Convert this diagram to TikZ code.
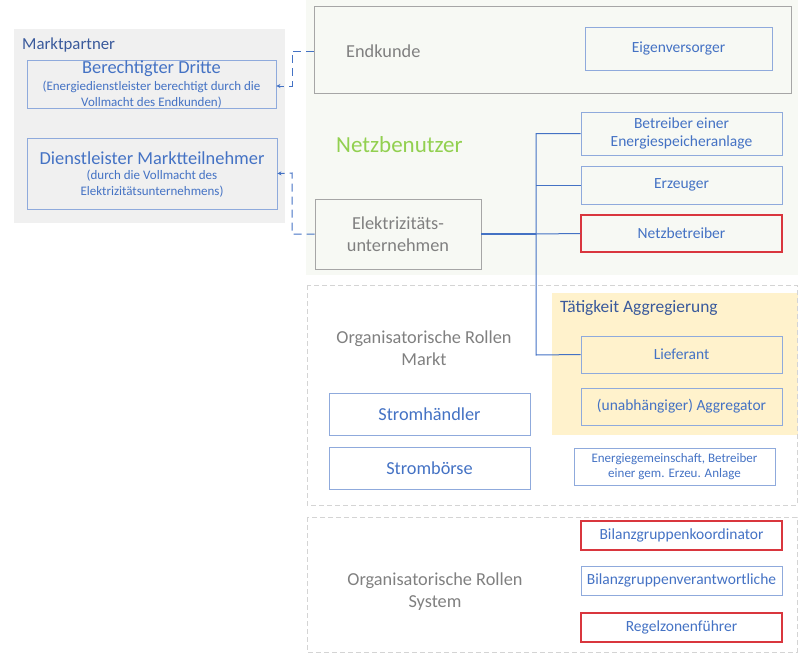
\documentclass[tikz,border=0pt]{standalone}
\usepackage{fontspec}
\setmainfont{Carlito}
\usetikzlibrary{arrows.meta}
\definecolor{tblue}{HTML}{4472C4}
\definecolor{lblue}{HTML}{8FAADC}
\definecolor{dblue}{HTML}{3A5A9C}
\definecolor{tred}{HTML}{D9363E}
\definecolor{tgrey}{HTML}{808080}
\definecolor{bgrey}{HTML}{A6A6A6}
\definecolor{pgrey}{HTML}{F0F0F0}
\definecolor{nbg}{HTML}{F7F9F4}
\definecolor{ngreen}{HTML}{92D050}
\definecolor{ayel}{HTML}{FFF2CC}
\definecolor{dgrey}{HTML}{D4D4D4}
\tikzset{
  rolebox/.style={draw=lblue, line width=0.9pt, text=tblue, align=center, inner sep=1pt, font=\fontsize{15.5}{18}\selectfont},
  redbox/.style={rolebox, draw=tred, line width=1.1pt},
  greybox/.style={draw=bgrey, line width=0.9pt, text=tgrey, align=center, font=\fontsize{18.3}{22}\selectfont},
  bigbox/.style={rolebox, font=\fontsize{18.3}{22}\selectfont},
  conn/.style={draw=tblue, line width=1pt},
  dconn/.style={draw=tblue, line width=1pt, dash pattern=on 8pt off 5pt},
  graytxt/.style={text=tgrey, align=center, font=\fontsize{18.3}{22}\selectfont},
  mptxt/.style={text=tblue, align=center, inner sep=0pt},
}
\begin{document}
\begin{tikzpicture}[x=1pt,y=-1pt]
\useasboundingbox (0,0) rectangle (798,654);
% background areas
\fill[pgrey] (14,29) rectangle (285,223);
\fill[nbg] (306,0) rectangle (798,275);
\fill[ayel] (552,293) rectangle (798,435);
\draw[dgrey, line width=0.8pt, dash pattern=on 5pt off 3pt] (307,285) rectangle (797,505);
\draw[dgrey, line width=0.8pt, dash pattern=on 5pt off 3pt] (307,517) rectangle (797,652);

% Marktpartner
\node[anchor=west, text=dblue, font=\fontsize{16.8}{19}\selectfont, inner sep=0pt] (mp) at (22,45) {Marktpartner};
\node[rolebox, minimum width=249pt, minimum height=48pt] (bd) at (151.5,84) {};
\node[mptxt, font=\fontsize{18.4}{19}\selectfont] (bdt) at (151.5,69) {Berechtigter Dritte};
\node[mptxt, font=\fontsize{13}{15.5}\selectfont] (bds) at (151.5,94.5) {(Energiedienstleister berechtigt durch die\\Vollmacht des Endkunden)};
\node[rolebox, minimum width=250pt, minimum height=71pt] (dm) at (152,173.5) {};
\node[mptxt, font=\fontsize{18.4}{19}\selectfont] (dmt) at (152,158) {Dienstleister Marktteilnehmer};
\node[mptxt, font=\fontsize{13}{16}\selectfont] (dms) at (152,184) {(durch die Vollmacht des\\Elektrizitätsunternehmens)};

% Netzbenutzer
\node[draw=bgrey, line width=0.9pt, fill=nbg, minimum width=477pt, minimum height=87pt] (ek) at (552.5,49.5) {};
\node[graytxt, anchor=west, inner sep=0pt] (ekt) at (346,51) {Endkunde};
\node[rolebox, minimum width=187pt, minimum height=43pt] (ev) at (678.5,48.5) {Eigenversorger};
\node[anchor=west, text=ngreen, font=\fontsize{23}{26}\selectfont, inner sep=0pt] (nb) at (336,145) {Netzbenutzer};
\node[greybox, minimum width=166pt, minimum height=70pt] (eu) at (398,234) {Elektrizitäts-\\unternehmen};
\node[rolebox, minimum width=201pt, minimum height=43pt] (bs) at (681.5,133.5) {Betreiber einer\\Energiespeicheranlage};
\node[rolebox, minimum width=201pt, minimum height=38pt] (ez) at (681.5,185) {Erzeuger};
\node[redbox, minimum width=201pt, minimum height=37pt] (nbt) at (681.5,233.5) {Netzbetreiber};

% Markt
\node[anchor=west, text=dblue, font=\fontsize{17.4}{19}\selectfont, inner sep=0pt] (ta) at (560,308) {Tätigkeit Aggregierung};
\node[rolebox, minimum width=201pt, minimum height=37pt] (lf) at (681.5,354.5) {Lieferant};
\node[rolebox, minimum width=201pt, minimum height=37pt] (ag) at (681.5,406.5) {(unabhängiger) Aggregator};
\node[graytxt] (orm) at (424,348.5) {Organisatorische Rollen\\Markt};
\node[bigbox, minimum width=201pt, minimum height=42pt] (sh) at (429.5,414) {Stromhändler};
\node[bigbox, minimum width=201pt, minimum height=42pt] (sb) at (429.5,468) {Strombörse};
\node[rolebox, minimum width=201pt, minimum height=37pt, font=\fontsize{13}{15.5}\selectfont] (eg) at (674.5,466.5) {Energiegemeinschaft, Betreiber\\einer gem. Erzeu. Anlage};

% System
\node[graytxt] (ors) at (435,591.5) {Organisatorische Rollen\\System};
\node[redbox, minimum width=201pt, minimum height=29pt] (bk) at (681.5,535.5) {Bilanzgruppenkoordinator};
\node[rolebox, minimum width=201pt, minimum height=29pt] (bv) at (681.5,580.5) {Bilanzgruppenverantwortliche};
\node[redbox, minimum width=201pt, minimum height=29pt] (rz) at (681.5,627.5) {Regelzonenführer};

% connectors
\coordinate (jx) at (536,234);
\draw[conn, line width=1.4pt] (eu.east) -- (jx);
\draw[conn] (jx) -- (nbt.west);
\draw[conn] (bs.west) -| (536,355) -- (lf.west);
\draw[conn] (ez.west) -- (536,185);

% dashed connectors
\draw[dconn, -{Stealth[length=4pt,width=4pt]}] (ek.west |- ekt) -- (292,51) -- (292,86) -- (bd.east |- 0,86);
\draw[dconn, -{Stealth[length=4pt,width=4pt]}] (eu.west) -- (292,234) -- (292,173) -- (dm.east);
\end{tikzpicture}
\end{document}
